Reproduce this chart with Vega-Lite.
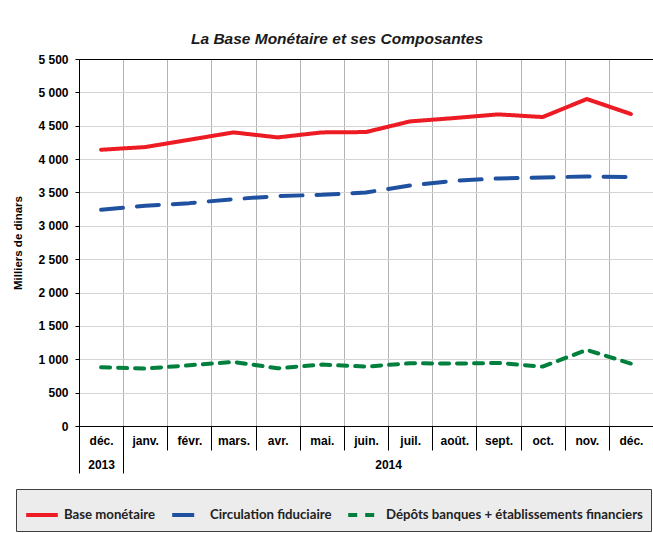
{
  "$schema": "https://vega.github.io/schema/vega-lite/v6.json",
  "width": 574,
  "height": 367,
  "autosize": "none",
  "padding": {"left": 79, "top": 59, "right": 0, "bottom": 107},
  "background": "white",
  "title": {
    "text": "La Base Monétaire et ses Composantes",
    "font": "Liberation Sans",
    "fontSize": 15.5,
    "fontStyle": "italic",
    "fontWeight": "bold",
    "color": "#1a1a1a",
    "anchor": "middle",
    "dx": -29,
    "offset": 6
  },
  "data": {
    "values": [
      {"i": 0, "mois": "déc. 2013", "serie": "Base monétaire", "valeur": 4140},
      {"i": 1, "mois": "janv. 2014", "serie": "Base monétaire", "valeur": 4180},
      {"i": 2, "mois": "févr. 2014", "serie": "Base monétaire", "valeur": 4290},
      {"i": 3, "mois": "mars 2014", "serie": "Base monétaire", "valeur": 4400},
      {"i": 4, "mois": "avr. 2014", "serie": "Base monétaire", "valeur": 4325},
      {"i": 5, "mois": "mai 2014", "serie": "Base monétaire", "valeur": 4400},
      {"i": 6, "mois": "juin 2014", "serie": "Base monétaire", "valeur": 4405},
      {"i": 7, "mois": "juil. 2014", "serie": "Base monétaire", "valeur": 4565},
      {"i": 8, "mois": "août 2014", "serie": "Base monétaire", "valeur": 4615},
      {"i": 9, "mois": "sept. 2014", "serie": "Base monétaire", "valeur": 4670},
      {"i": 10, "mois": "oct. 2014", "serie": "Base monétaire", "valeur": 4630},
      {"i": 11, "mois": "nov. 2014", "serie": "Base monétaire", "valeur": 4900},
      {"i": 12, "mois": "déc. 2014", "serie": "Base monétaire", "valeur": 4675},
      {"i": 0, "mois": "déc. 2013", "serie": "Circulation fiduciaire", "valeur": 3240},
      {"i": 1, "mois": "janv. 2014", "serie": "Circulation fiduciaire", "valeur": 3300},
      {"i": 2, "mois": "févr. 2014", "serie": "Circulation fiduciaire", "valeur": 3340},
      {"i": 3, "mois": "mars 2014", "serie": "Circulation fiduciaire", "valeur": 3400},
      {"i": 4, "mois": "avr. 2014", "serie": "Circulation fiduciaire", "valeur": 3445},
      {"i": 5, "mois": "mai 2014", "serie": "Circulation fiduciaire", "valeur": 3465},
      {"i": 6, "mois": "juin 2014", "serie": "Circulation fiduciaire", "valeur": 3500},
      {"i": 7, "mois": "juil. 2014", "serie": "Circulation fiduciaire", "valeur": 3605},
      {"i": 8, "mois": "août 2014", "serie": "Circulation fiduciaire", "valeur": 3675},
      {"i": 9, "mois": "sept. 2014", "serie": "Circulation fiduciaire", "valeur": 3710},
      {"i": 10, "mois": "oct. 2014", "serie": "Circulation fiduciaire", "valeur": 3725},
      {"i": 11, "mois": "nov. 2014", "serie": "Circulation fiduciaire", "valeur": 3740},
      {"i": 12, "mois": "déc. 2014", "serie": "Circulation fiduciaire", "valeur": 3730},
      {"i": 0, "mois": "déc. 2013", "serie": "Dépôts banques + établissements financiers", "valeur": 880},
      {"i": 1, "mois": "janv. 2014", "serie": "Dépôts banques + établissements financiers", "valeur": 860},
      {"i": 2, "mois": "févr. 2014", "serie": "Dépôts banques + établissements financiers", "valeur": 910},
      {"i": 3, "mois": "mars 2014", "serie": "Dépôts banques + établissements financiers", "valeur": 960},
      {"i": 4, "mois": "avr. 2014", "serie": "Dépôts banques + établissements financiers", "valeur": 865},
      {"i": 5, "mois": "mai 2014", "serie": "Dépôts banques + établissements financiers", "valeur": 920},
      {"i": 6, "mois": "juin 2014", "serie": "Dépôts banques + établissements financiers", "valeur": 890},
      {"i": 7, "mois": "juil. 2014", "serie": "Dépôts banques + établissements financiers", "valeur": 940},
      {"i": 8, "mois": "août 2014", "serie": "Dépôts banques + établissements financiers", "valeur": 935},
      {"i": 9, "mois": "sept. 2014", "serie": "Dépôts banques + établissements financiers", "valeur": 945},
      {"i": 10, "mois": "oct. 2014", "serie": "Dépôts banques + établissements financiers", "valeur": 890},
      {"i": 11, "mois": "nov. 2014", "serie": "Dépôts banques + établissements financiers", "valeur": 1140},
      {"i": 12, "mois": "déc. 2014", "serie": "Dépôts banques + établissements financiers", "valeur": 935}
    ]
  },
  "layer": [
    {
      "mark": {"type": "rule", "opacity": 0},
      "encoding": {
        "x": {
          "field": "i", "type": "quantitative",
          "scale": {"domain": [-0.5, 12.5], "nice": false, "zero": false},
          "axis": {
            "orient": "bottom",
            "values": [-0.5, 0.5, 1.5, 2.5, 3.5, 4.5, 5.5, 6.5, 7.5, 8.5, 9.5, 10.5, 11.5],
            "labels": false, "ticks": true, "tickSize": 24, "tickColor": "#000", "tickWidth": 1,
            "grid": true, "gridColor": "#b3b3b3", "domain": false, "title": null
          }
        }
      }
    },
    {
      "mark": {"type": "rule", "opacity": 0},
      "encoding": {
        "x": {
          "field": "i", "type": "quantitative",
          "scale": {"domain": [-0.5, 12.5], "nice": false, "zero": false},
          "axis": {
            "orient": "bottom",
            "values": [-0.5, 0.5],
            "labels": false, "ticks": true, "tickSize": 47, "tickColor": "#000",
            "grid": false, "domain": false, "title": null
          }
        }
      }
    },
    {
      "mark": {"type": "rule", "opacity": 0},
      "encoding": {
        "x": {
          "field": "i", "type": "quantitative",
          "scale": {"domain": [-0.5, 12.5], "nice": false, "zero": false},
          "axis": {
            "orient": "bottom",
            "values": [0, 6.5],
            "labelExpr": "datum.value < 1 ? '2013' : '2014'",
            "ticks": false, "grid": false, "domain": false, "title": null,
            "labelPadding": 33, "labelFont": "Liberation Sans", "labelFontSize": 12,
            "labelFontWeight": "bold", "labelColor": "#000"
          }
        }
      }
    },
    {
      "mark": {"type": "line", "strokeCap": "round", "strokeJoin": "round", "strokeWidth": 4},
      "encoding": {
        "x": {
          "field": "i", "type": "quantitative",
          "scale": {"domain": [-0.5, 12.5], "nice": false, "zero": false},
          "axis": {
            "orient": "bottom",
            "values": [0, 1, 2, 3, 4, 5, 6, 7, 8, 9, 10, 11, 12],
            "labelExpr": "['déc.','janv.','févr.','mars.','avr.','mai.','juin.','juil.','août.','sept.','oct.','nov.','déc.'][round(datum.value)]",
            "ticks": false, "grid": false, "domain": true, "domainColor": "#000", "title": null,
            "labelPadding": 9, "labelFont": "Liberation Sans", "labelFontSize": 12,
            "labelFontWeight": "bold", "labelColor": "#000", "labelFlush": false, "labelOverlap": false
          }
        },
        "y": {
          "field": "valeur", "type": "quantitative",
          "scale": {"domain": [0, 5500], "nice": false},
          "axis": {
            "values": [0, 500, 1000, 1500, 2000, 2500, 3000, 3500, 4000, 4500, 5000, 5500],
            "labelExpr": "replace(format(datum.value, ','), ',', ' ')",
            "title": "Milliers de dinars",
            "titleFont": "Liberation Sans", "titleFontSize": 11.5, "titleFontWeight": "bold", "titleColor": "#000",
            "titlePadding": 14,
            "labelFont": "Liberation Sans", "labelFontSize": 12, "labelFontWeight": "bold", "labelColor": "#000",
            "labelPadding": 7, "tickSize": 4, "tickColor": "#000", "domainColor": "#000",
            "grid": true,
            "gridColor": {"condition": {"test": "datum.value == 5500", "value": "#000"}, "value": "#d4d4d4"},
            "labelFlush": false
          }
        },
        "color": {
          "field": "serie", "type": "nominal",
          "scale": {
            "domain": ["Base monétaire", "Circulation fiduciaire", "Dépôts banques + établissements financiers"],
            "range": ["#ed1c24", "#1f51a0", "#00803c"]
          },
          "legend": {"title": null}
        },
        "strokeDash": {
          "field": "serie", "type": "nominal",
          "scale": {
            "domain": ["Base monétaire", "Circulation fiduciaire", "Dépôts banques + établissements financiers"],
            "range": [[1, 0], [22, 14], [9, 8]]
          },
          "legend": {"title": null}
        }
      }
    }
  ],
  "resolve": {"axis": {"x": "independent"}},
  "config": {
    "view": {"stroke": null},
    "legend": {
      "orient": "none",
      "legendX": -63,
      "legendY": 430,
      "direction": "horizontal",
      "symbolType": "stroke",
      "symbolSize": 1000,
      "symbolStrokeWidth": 4,
      "labelFont": "Lato",
      "labelFontSize": 13.2,
      "labelFontWeight": "bold",
      "labelColor": "#222",
      "labelOffset": 4,
      "labelLimit": 400,
      "columnPadding": 8,
      "fillColor": "#ececec",
      "strokeColor": "#404040",
      "padding": 8
    }
  }
}
